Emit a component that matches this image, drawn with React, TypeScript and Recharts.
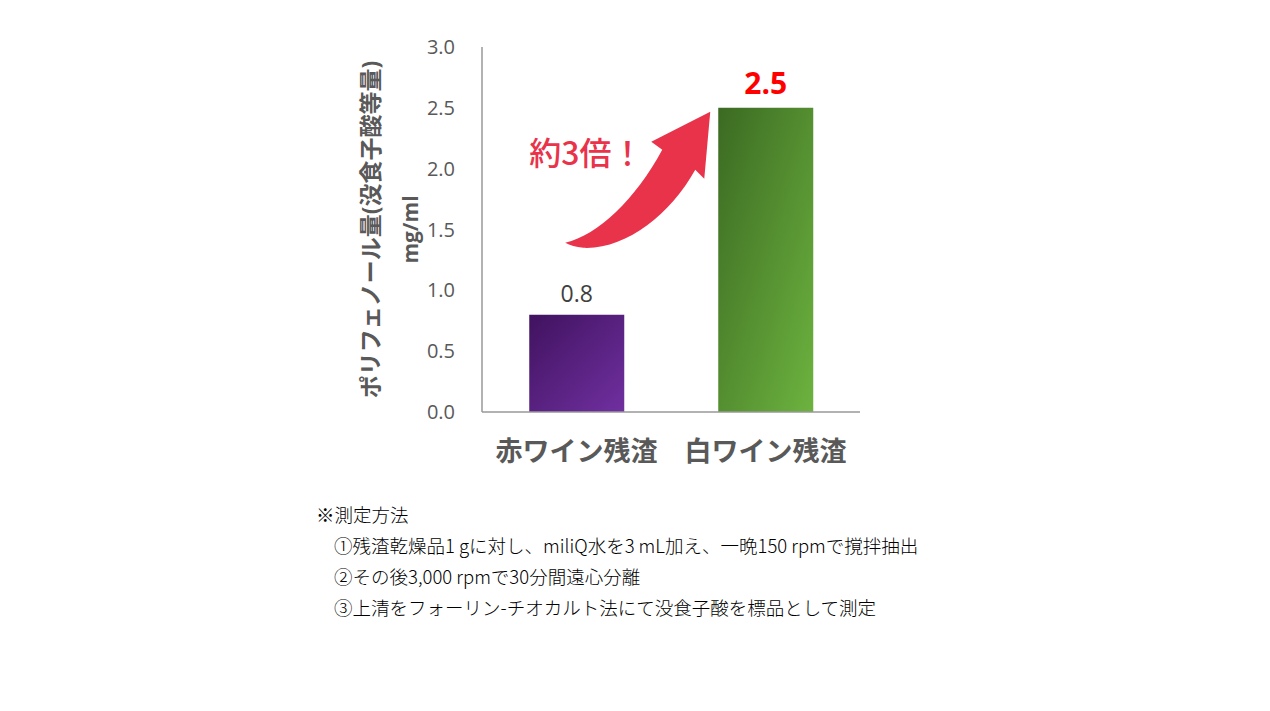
import React from "react";
import { Bar, BarChart, Cell, LabelList, XAxis, YAxis } from "recharts";

// polyphenol content of wine residues (gallic acid equivalent)
const categories = ["赤ワイン残渣", "白ワイン残渣"];
const values = [0.8, 2.5];
const barColors = ["url(#gradPurple)", "url(#gradGreen)"];
const yTicks = [0, 0.5, 1, 1.5, 2, 2.5, 3];

const noteLines = [
  "※測定方法",
  "①残渣乾燥品1 gに対し、miliQ水を3 mL加え、一晩150 rpmで撹拌抽出",
  "②その後3,000 rpmで30分間遠心分離",
  "③上清をフォーリン-チオカルト法にて没食子酸を標品として測定",
];

const chartData = categories.map((name, i) => ({ name, value: values[i] }));

const FONT = "'Open Sans', 'Noto Sans CJK JP', sans-serif";
const GREY = "#595959";

function YLabel(props: any) {
  const { viewBox } = props;
  const cy = viewBox.y + viewBox.height / 2;
  return (
    <g fontFamily={FONT} fontWeight="bold" fill={GREY}>
      <text
        x={370}
        y={cy}
        fontSize={23}
        textAnchor="middle"
        dominantBaseline="central"
        transform={`rotate(-90 370 ${cy})`}
      >
        ポリフェノール量(没食子酸等量)
      </text>
      <text
        x={410}
        y={cy}
        fontSize={21}
        textAnchor="middle"
        dominantBaseline="central"
        transform={`rotate(-90 410 ${cy})`}
      >
        mg/ml
      </text>
    </g>
  );
}

function ValueLabel(props: any) {
  const { x, y, width, value, index } = props;
  const cx = x + width / 2;
  if (index === 0) {
    return (
      <text x={cx} y={y - 13} fontFamily={FONT} fontSize={23} fill="#404040" textAnchor="middle">
        {Number(value).toFixed(1)}
      </text>
    );
  }
  // "about 3x" arrow, placed relative to the top-left corner of the taller bar
  const p = (dx: number, dy: number) => `${x + dx},${y + dy}`;
  const arrow =
    `M ${p(-153, 135)} C ${p(-120, 127)} ${p(-83, 92)} ${p(-56, 42)} ` +
    `L ${p(-67, 34)} L ${p(-8, 4)} L ${p(-14, 71)} L ${p(-23, 62)} ` +
    `C ${p(-48, 107)} ${p(-93, 142)} ${p(-135, 140)} Q ${p(-146, 139)} ${p(-153, 135)} Z`;
  return (
    <g>
      <path d={arrow} fill="#E9334A" />
      <text x={x - 189} y={y + 57} fontFamily="'Noto Sans CJK JP', sans-serif" fontSize={32} fontWeight={500} fill="#E9334A">
        約3倍！
      </text>
      <text x={cx} y={y - 14} fontFamily={FONT} fontSize={30} fontWeight="bold" fill="#FF0000" textAnchor="middle">
        {Number(value).toFixed(1)}
      </text>
    </g>
  );
}

export default function App() {
  return (
    <div style={{ position: "absolute", left: 0, top: 0, width: 1270, height: 711, background: "#fff" }}>
      <BarChart
        width={1270}
        height={480}
        data={chartData}
        margin={{ top: 47, right: 410, left: 402, bottom: 8 }}
        barCategoryGap="25%"
      >
        <defs>
          <linearGradient id="gradPurple" x1="0" y1="0" x2="1" y2="1">
            <stop offset="0%" stopColor="#40125F" />
            <stop offset="100%" stopColor="#7030A0" />
          </linearGradient>
          <linearGradient id="gradGreen" x1="0" y1="0" x2="1" y2="1">
            <stop offset="0%" stopColor="#3B6A22" />
            <stop offset="100%" stopColor="#6DB33F" />
          </linearGradient>
        </defs>
        <XAxis
          dataKey="name"
          height={60}
          tickLine={false}
          tickSize={0}
          tickMargin={30}
          axisLine={{ stroke: "#999999", strokeWidth: 1.5 }}
          tick={{ fill: GREY, fontSize: 27, fontWeight: "bold", fontFamily: FONT }}
        />
        <YAxis
          width={80}
          domain={[0, 3]}
          ticks={yTicks}
          tickFormatter={(v: number) => v.toFixed(1)}
          tickLine={false}
          tickSize={0}
          tickMargin={27}
          axisLine={{ stroke: "#999999", strokeWidth: 1.5 }}
          tick={{ fill: GREY, fontSize: 20, fontFamily: FONT }}
          label={<YLabel />}
        />
        <Bar dataKey="value" isAnimationActive={false}>
          {chartData.map((d, i) => (
            <Cell key={d.name} fill={barColors[i]} />
          ))}
          <LabelList dataKey="value" content={<ValueLabel />} />
        </Bar>
      </BarChart>
      <div
        style={{
          position: "absolute",
          left: 316,
          top: 499,
          fontFamily: "'Noto Sans CJK JP', sans-serif",
          fontSize: 18.5,
          fontWeight: 300,
          lineHeight: "31px",
          color: "#000",
          whiteSpace: "nowrap",
        }}
      >
        {noteLines.map((line, i) => (
          <div key={i} style={{ paddingLeft: i === 0 ? 0 : 18 }}>
            {line}
          </div>
        ))}
      </div>
    </div>
  );
}
